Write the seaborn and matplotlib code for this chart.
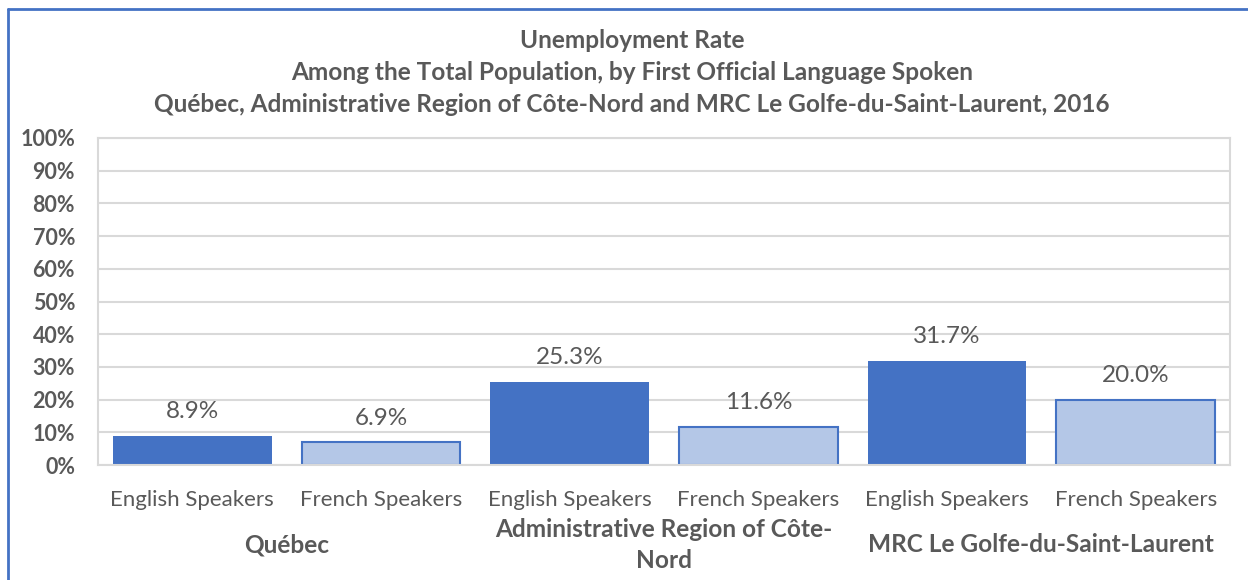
import matplotlib
matplotlib.use("Agg")
import matplotlib.pyplot as plt
import matplotlib.transforms as mtransforms
from matplotlib.lines import Line2D
import seaborn as sns
import pandas as pd

# ---- data ----
groups = ["Québec", "Administrative Region of Côte-\nNord", "MRC Le Golfe-du-Saint-Laurent"]
languages = ["English Speakers", "French Speakers"]
rates = [8.9, 6.9, 25.3, 11.6, 31.7, 20.0]
value_labels = ["8.9%", "6.9%", "25.3%", "11.6%", "31.7%", "20.0%"]
y_ticks = [0, 10, 20, 30, 40, 50, 60, 70, 80, 90, 100]
title_lines = ["Unemployment Rate",
               "Among the Total Population, by First Official Language Spoken",
               "Québec, Administrative Region of Côte-Nord and MRC Le Golfe-du-Saint-Laurent, 2016"]

keys, langs, grps = [], [], []
for gi, g in enumerate(groups):
    for l in languages:
        keys.append(f"{gi}|{l}")
        langs.append(l)
        grps.append(g)
df = pd.DataFrame({"key": keys, "lang": langs, "group": grps, "rate": rates})

sns.set_theme(style="white")
plt.rcParams["font.family"] = ["Lato", "DejaVu Sans"]

TXT = "#595959"
DARK = "#4472C4"
LIGHT = "#B4C7E7"
GRID = "#D9D9D9"

fig = plt.figure(figsize=(12.48, 5.8), dpi=100)
ax = fig.add_axes([98/1248, 1-465/580, (1230-98)/1248, (465-138)/580])

sns.barplot(data=df, x="key", y="rate", hue="lang", dodge=False,
            palette={"English Speakers": DARK, "French Speakers": LIGHT},
            saturation=1, width=0.84, legend=False, ax=ax, order=keys)

for p, l in zip(sorted(ax.patches, key=lambda r: r.get_x()), langs):
    p.set_edgecolor(DARK)
    p.set_linewidth(1.5 if l == "French Speakers" else 0)

ax.set_ylim(0, 100)
ax.set_xlim(-0.5, len(keys) - 0.5)
ax.set_yticks(y_ticks)
ax.set_yticklabels([f"{t}%" for t in y_ticks], fontsize=15.5, fontweight="bold", color=TXT)
ax.set_xticks(range(len(keys)))
ax.set_xticklabels(langs, fontsize=16, color=TXT)
ax.tick_params(axis="x", length=0, pad=18)
ax.tick_params(axis="y", length=0, pad=16.5)
ax.set_xlabel("")
ax.set_ylabel("")
ax.grid(axis="y", color=GRID, linewidth=1.5)
ax.set_axisbelow(True)
for s in ax.spines.values():
    s.set_color(GRID)
    s.set_linewidth(1.5)

# value labels
bars = sorted(ax.patches, key=lambda r: r.get_x())
for b, lab in zip(bars, value_labels):
    ax.annotate(lab, (b.get_x() + b.get_width()/2, b.get_height()),
                xytext=(0, 10), textcoords="offset points",
                ha="center", va="bottom", fontsize=17.5, color=TXT)

# group labels
trans = mtransforms.blended_transform_factory(ax.transData, fig.transFigure)
for gi, g in enumerate(groups):
    ax.text(gi*2 + 0.5, 1 - 545/580, g, transform=trans, ha="center", va="center",
            fontsize=17.6, fontweight="bold", color=TXT, linespacing=1.45)

# title
for i, t in enumerate(title_lines):
    fig.text(632/1248, 1 - (40 + 32*i)/580, t, ha="center", va="center",
             fontsize=17.6, fontweight="bold", color=TXT)

# figure border (top & left)
fig.add_artist(Line2D([8/1248, 8/1248], [0, 1 - 9/580], transform=fig.transFigure,
                      color=DARK, linewidth=2))
fig.add_artist(Line2D([8/1248, 1], [1 - 9/580, 1 - 9/580], transform=fig.transFigure,
                      color=DARK, linewidth=2))

fig.savefig("out.png", dpi=100, facecolor="white")
